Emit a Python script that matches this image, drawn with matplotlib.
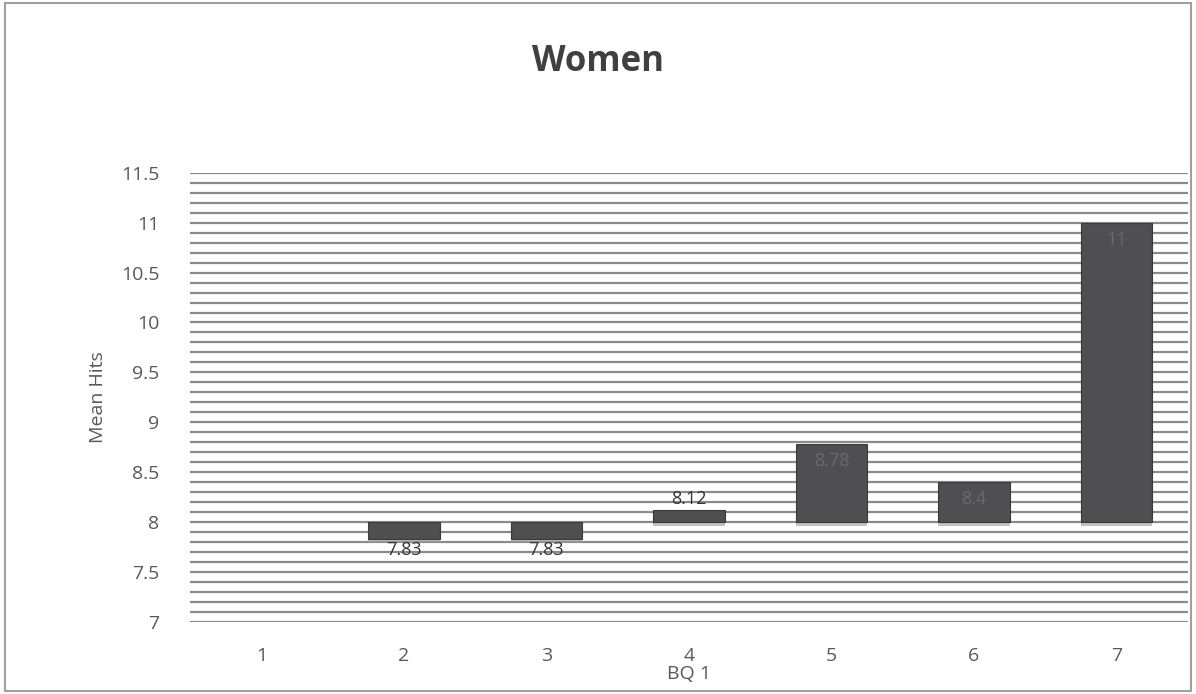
import matplotlib.pyplot as plt
import matplotlib.patheffects as pe
import numpy as np
from matplotlib.patches import Rectangle

# Data
CATEGORIES = ["1", "2", "3", "4", "5", "6", "7"]
VALUES = [np.nan, 7.83, 7.83, 8.12, 8.78, 8.4, 11.0]
LABELS = ["", "7.83", "7.83", "8.12", "8.78", "8.4", "11"]
BASE = 8.0

BAR_COLOR = "#4f4f51"
GRID_COLOR = "#8a8a8a"
TEXT = "#595959"

plt.rcParams["font.family"] = ["Open Sans", "DejaVu Sans"]

fig = plt.figure(figsize=(11.96, 6.94), dpi=100)
ax = fig.add_axes([0.159, 0.104, 0.834, 0.647])

x = np.arange(len(CATEGORIES))
heights = [v - BASE for v in VALUES]
bars = ax.bar(x, heights, bottom=BASE, width=0.5, color=BAR_COLOR,
              edgecolor="#3a3a3a", linewidth=0.8, zorder=3,
              path_effects=[pe.SimplePatchShadow(offset=(0, -3), shadow_rgbFace="#9a9a9a", alpha=0.6),
                            pe.Normal()])

# Value labels
for xi, v, lab in zip(x, VALUES, LABELS):
    if np.isnan(v):
        continue
    if v < BASE:
        ax.text(xi, v - 0.02, lab, ha="center", va="top", fontsize=13, color="#333333", zorder=4)
    elif v - BASE < 0.3:
        ax.text(xi, v + 0.02, lab, ha="center", va="bottom", fontsize=13, color="#333333", zorder=4)
    else:
        ax.text(xi, v - 0.08, lab, ha="center", va="top", fontsize=13, color="#6a6a6a", zorder=4)

ax.set_ylim(7, 11.5)
ax.set_xlim(-0.5, len(CATEGORIES) - 0.5)
ax.set_yticks(np.arange(7, 11.51, 0.5))
ax.set_yticklabels(["7", "7.5", "8", "8.5", "9", "9.5", "10", "10.5", "11", "11.5"])
ax.set_yticks(np.arange(7, 11.51, 0.1), minor=True)
ax.set_xticks(x)
ax.set_xticklabels(CATEGORIES)
ax.tick_params(axis="y", length=0, colors=TEXT, labelsize=14, pad=22)
ax.tick_params(axis="x", length=0, colors=TEXT, labelsize=14, pad=18)
ax.tick_params(axis="y", which="minor", length=0)

ax.set_axisbelow(True)
ax.grid(axis="y", which="both", color=GRID_COLOR, linewidth=1.6)
for s in ax.spines.values():
    s.set_visible(False)

ax.set_ylabel("Mean Hits", fontsize=14, color=TEXT, labelpad=10)
ax.set_xlabel("BQ 1", fontsize=14, color=TEXT, labelpad=0)

fig.text(0.5, 0.911, "Women", ha="center", va="center", fontsize=25,
         fontweight="bold", color="#404040")

# outer chart frame
fig.patches.append(Rectangle((0.004, 0.004), 0.992, 0.992, transform=fig.transFigure,
                             fill=False, edgecolor="#a0a0a0", linewidth=1.5))

fig.savefig("out.png", dpi=100, facecolor="white")
